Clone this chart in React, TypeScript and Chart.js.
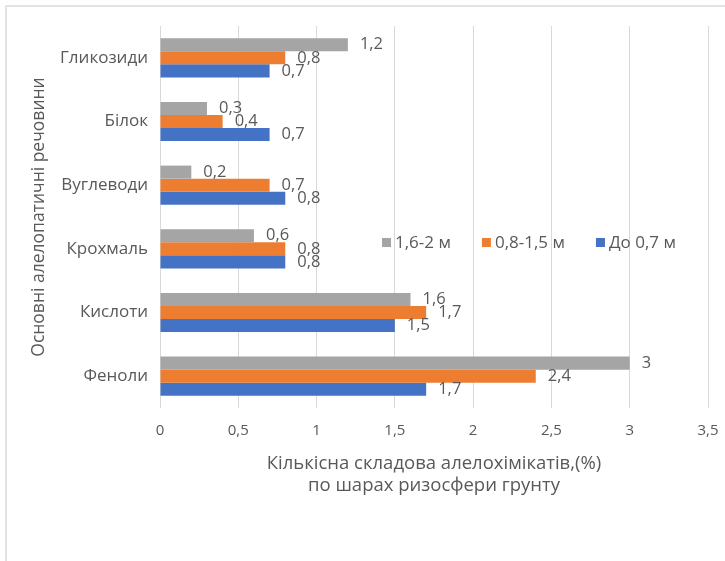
import React, { useEffect, useRef } from 'react';
import { Chart, registerables } from 'chart.js';

Chart.register(...registerables);

const categories = ['Гликозиди', 'Білок', 'Вуглеводи', 'Крохмаль', 'Кислоти', 'Феноли'];
const seriesNames = ['1,6-2 м', '0,8-1,5 м', 'До 0,7 м'];
const layerDeep = [1.2, 0.3, 0.2, 0.6, 1.6, 3];
const layerMiddle = [0.8, 0.4, 0.7, 0.8, 1.7, 2.4];
const layerTop = [0.7, 0.7, 0.8, 0.8, 1.5, 1.7];
const xMin = 0;
const xMax = 3.5;
const xStep = 0.5;
const xTitle = ['Кількісна складова алелохімікатів,(%)', 'по шарах ризосфери грунту'];
const yTitle = 'Основні алелопатичні речовини';

const FONT = '"Open Sans", "Noto Sans", sans-serif';
const TEXT = '#595959';
const GRID = '#d9d9d9';
const colors = ['#A5A5A5', '#ED7D31', '#4472C4'];

const fmt = (v: number) => String(v).replace('.', ',');

const valueLabels = {
  id: 'valueLabels',
  afterDatasetsDraw(chart: any) {
    const { ctx } = chart;
    ctx.save();
    ctx.font = `16.5px ${FONT}`;
    ctx.fillStyle = TEXT;
    ctx.textAlign = 'left';
    ctx.textBaseline = 'middle';
    chart.data.datasets.forEach((ds: any, di: number) => {
      const meta = chart.getDatasetMeta(di);
      meta.data.forEach((el: any, i: number) => {
        ctx.fillText(fmt(ds.data[i]), el.x + 12, el.y);
      });
    });
    ctx.restore();
  },
};

const insideLegend = {
  id: 'insideLegend',
  afterDatasetsDraw(chart: any) {
    const { ctx, chartArea } = chart;
    ctx.save();
    ctx.font = `17px ${FONT}`;
    ctx.textAlign = 'left';
    ctx.textBaseline = 'middle';
    let x = chartArea.left + 222;
    const y = chartArea.top + (chartArea.bottom - chartArea.top) * 0.568;
    chart.data.datasets.forEach((ds: any) => {
      ctx.fillStyle = ds.backgroundColor;
      ctx.fillRect(x, y - 5, 9, 9);
      x += 13;
      ctx.fillStyle = TEXT;
      ctx.fillText(ds.label, x, y);
      x += ctx.measureText(ds.label).width + 31;
    });
    ctx.restore();
  },
};

export default function App() {
  const ref = useRef<HTMLCanvasElement>(null);
  useEffect(() => {
    if (!ref.current) return;
    const chart = new Chart(ref.current, {
      type: 'bar',
      data: {
        labels: categories,
        datasets: [layerDeep, layerMiddle, layerTop].map((d, i) => ({
          label: seriesNames[i],
          data: d,
          backgroundColor: colors[i],
          borderWidth: 0,
          categoryPercentage: 0.615,
          barPercentage: 1,
        })),
      },
      options: {
        indexAxis: 'y',
        responsive: false,
        animation: false,
        layout: { padding: { top: 26, right: 17, left: 0, bottom: 0 } },
        plugins: { legend: { display: false }, tooltip: { enabled: false } },
        scales: {
          x: {
            min: xMin,
            max: xMax,
            ticks: {
              stepSize: xStep,
              color: TEXT,
              font: { family: FONT, size: 15 },
              padding: 14,
              maxRotation: 0,
              callback: (v: any) => fmt(Number(v)),
            },
            grid: { color: GRID, lineWidth: 1, drawTicks: false },
            border: { display: false },
            title: {
              display: true,
              text: xTitle,
              color: TEXT,
              font: { family: FONT, size: 18.5, lineHeight: 1.19 },
              padding: { top: 0, bottom: 64 },
            },
            afterFit: (s: any) => {
              s.height = 153;
              s.paddingRight = 0;
              s.paddingLeft = 0;
            },
          },
          y: {
            ticks: {
              color: TEXT,
              font: { family: FONT, size: 17 },
              padding: 12,
            },
            grid: { display: false, drawTicks: false },
            border: { display: false },
            title: {
              display: true,
              text: yTitle,
              color: TEXT,
              font: { family: FONT, size: 17.5, lineHeight: 1.2 },
              padding: { top: 29, bottom: 0 },
            },
            afterFit: (s: any) => { s.width = 160; },
          },
        },
      },
      plugins: [valueLabels, insideLegend],
    } as any);
    return () => chart.destroy();
  }, []);

  return (
    <div style={{ position: 'fixed', left: 0, top: 0, width: 725, height: 561, overflow: 'hidden', background: '#fff' }}>
      <div style={{ position: 'absolute', left: 5, top: 5, width: 740, height: 600, borderLeft: '2px solid #e3e3e3', borderTop: '2px solid #e3e3e3' }} />
      <canvas ref={ref} width={725} height={561} style={{ position: 'absolute', left: 0, top: 0, width: 725, height: 561 }} />
    </div>
  );
}
